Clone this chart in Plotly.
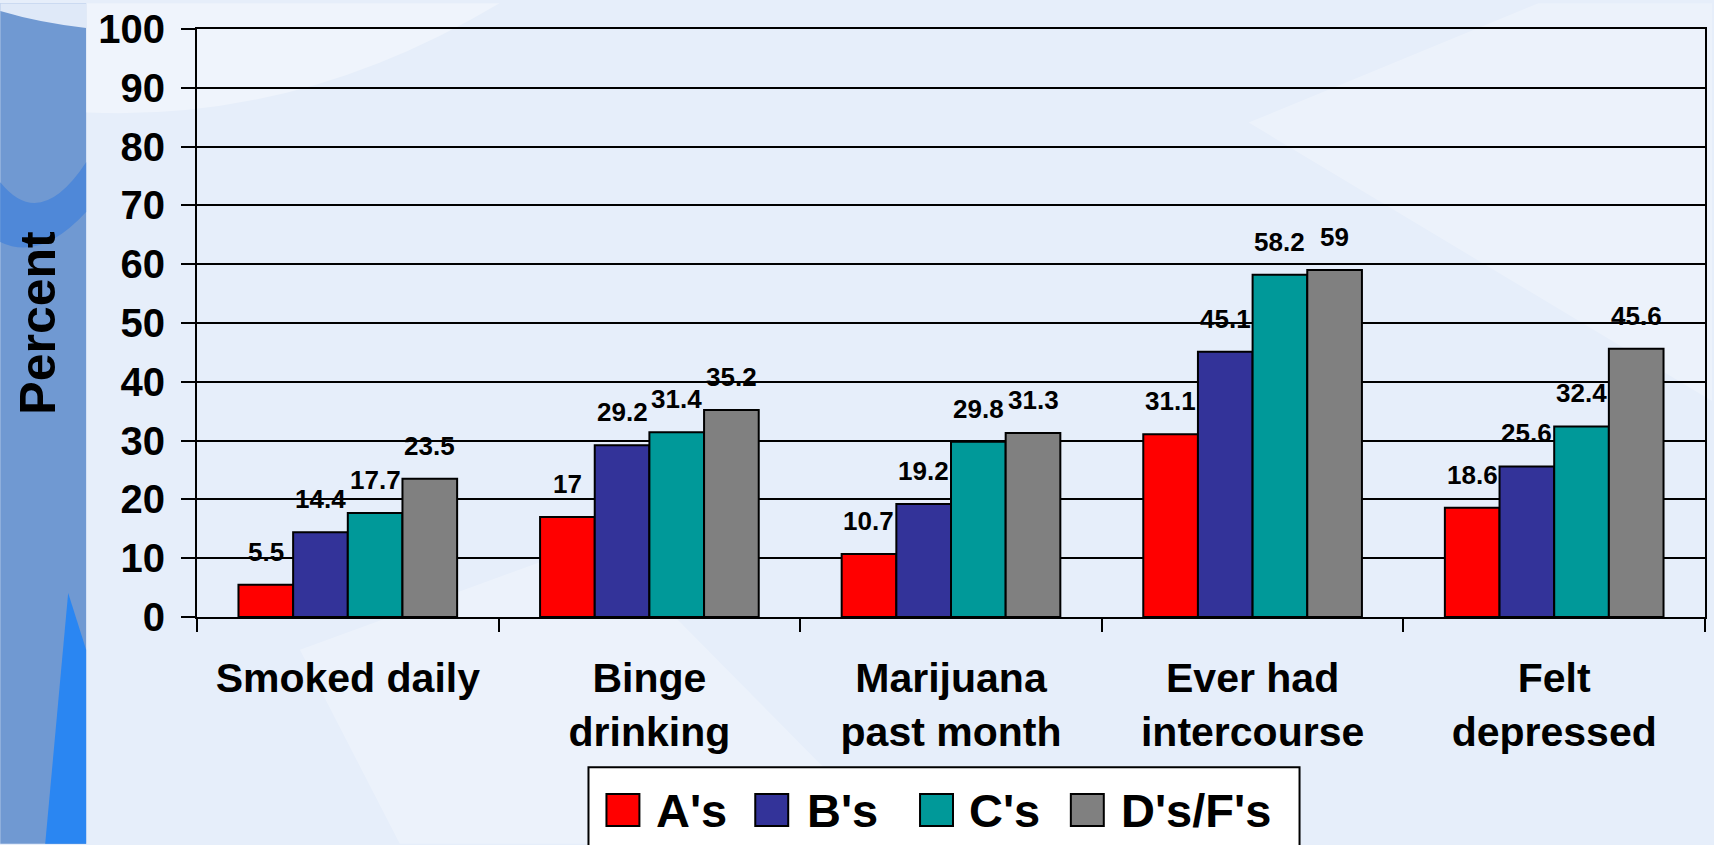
import plotly.graph_objects as go

# ---- data ----
categories = ["Smoked daily", "Binge<br>drinking", "Marijuana<br>past month",
              "Ever had<br>intercourse", "Felt<br>depressed"]
series_names = ["A's", "B's", "C's", "D's/F's"]
a_vals = [5.5, 17, 10.7, 31.1, 18.6]
b_vals = [14.4, 29.2, 19.2, 45.1, 25.6]
c_vals = [17.7, 31.4, 29.8, 58.2, 32.4]
df_vals = [23.5, 35.2, 31.3, 59, 45.6]
y_ticks = [0, 10, 20, 30, 40, 50, 60, 70, 80, 90, 100]

all_series = [a_vals, b_vals, c_vals, df_vals]
colors = ["#FF0000", "#333399", "#009999", "#808080"]

# ---- layout geometry (pixels) ----
W, H = 1714, 845
ML, MR, MT, MB = 197, 7, 26, 228
PW = W - ML - MR
PH = H - MT - MB
BARGAP = 0.275
FONT = "Liberation Sans, Arial, sans-serif"


def px2x(px):
    return (px - ML) / PW


def py2y(py):
    return (H - MB - py) / PH


fig = go.Figure()
for name, vals, col in zip(series_names, all_series, colors):
    fig.add_trace(go.Bar(
        x=categories, y=vals, name=name, showlegend=False,
        marker=dict(color=col, line=dict(color="black", width=2)),
    ))

# data labels above bars
bar_w = PW / len(categories) * (1 - BARGAP) / len(all_series)
annotations = []
for i, vals in enumerate(all_series):
    for cat, v in zip(categories, vals):
        annotations.append(dict(
            x=cat, y=v, xref="x", yref="y", text=f"{v:g}", showarrow=False,
            xshift=(i - (len(all_series) - 1) / 2) * bar_w, yshift=16,
            yanchor="bottom", xanchor="center",
            font=dict(family=FONT, size=26, color="black", weight="bold"),
        ))

# background decoration
shapes = [
    dict(type="rect", xref="paper", yref="paper", layer="below",
         x0=px2x(0), x1=px2x(86), y0=py2y(H), y1=py2y(0),
         fillcolor="#7099d2", line=dict(width=0)),
    dict(type="path", xref="paper", yref="paper", layer="below",
         path=f"M {px2x(0)},{py2y(0)} L {px2x(86)},{py2y(0)} L {px2x(86)},{py2y(25)} "
              f"Q {px2x(40)},{py2y(20)} {px2x(0)},{py2y(8)} Z",
         fillcolor="#dfe9f8", line=dict(width=0)),
    dict(type="path", xref="paper", yref="paper", layer="below",
         path=f"M {px2x(68)},{py2y(593)} L {px2x(86)},{py2y(650)} L {px2x(86)},{py2y(H)} "
              f"L {px2x(45)},{py2y(H)} Z",
         fillcolor="#2a86f2", line=dict(width=0)),
    dict(type="path", xref="paper", yref="paper", layer="below",
         path=f"M {px2x(0)},{py2y(180)} Q {px2x(40)},{py2y(230)} {px2x(86)},{py2y(160)} "
              f"L {px2x(86)},{py2y(210)} Q {px2x(40)},{py2y(260)} {px2x(0)},{py2y(240)} Z",
         fillcolor="#4f88d8", line=dict(width=0)),
    dict(type="path", xref="paper", yref="paper", layer="below",
         path=f"M {px2x(86)},{py2y(0)} L {px2x(500)},{py2y(0)} Q {px2x(300)},{py2y(120)} {px2x(86)},{py2y(110)} Z",
         fillcolor="rgba(255,255,255,0.35)", line=dict(width=0)),
    dict(type="path", xref="paper", yref="paper", layer="below",
         path=f"M {px2x(1250)},{py2y(120)} L {px2x(1540)},{py2y(0)} L {px2x(1714)},{py2y(0)} "
              f"L {px2x(1714)},{py2y(400)} Z",
         fillcolor="rgba(255,255,255,0.25)", line=dict(width=0)),
    dict(type="path", xref="paper", yref="paper", layer="below",
         path=f"M {px2x(300)},{py2y(650)} L {px2x(600)},{py2y(540)} L {px2x(900)},{py2y(845)} "
              f"L {px2x(400)},{py2y(845)} Z",
         fillcolor="rgba(255,255,255,0.25)", line=dict(width=0)),
]

# legend (drawn box with large swatches)
shapes.append(dict(type="rect", xref="paper", yref="paper",
                   x0=px2x(589), x1=px2x(1301), y0=py2y(862), y1=py2y(768),
                   fillcolor="white", line=dict(color="black", width=2)))
swatch_left = [607, 756, 921, 1072]
text_left = [655, 806, 968, 1120]
for name, col, sx, tx in zip(series_names, colors, swatch_left, text_left):
    shapes.append(dict(type="rect", xref="paper", yref="paper",
                       x0=px2x(sx), x1=px2x(sx + 33), y0=py2y(827), y1=py2y(795),
                       fillcolor=col, line=dict(color="black", width=2)))
    annotations.append(dict(x=px2x(tx), y=py2y(811), xref="paper", yref="paper",
                            text=name, showarrow=False, xanchor="left", yanchor="middle",
                            font=dict(family=FONT, size=47, color="black", weight="bold")))

fig.update_layout(
    width=W, height=H, autosize=False,
    margin=dict(l=ML, r=MR, t=MT, b=MB, pad=0),
    paper_bgcolor="#e6eefa", plot_bgcolor="rgba(0,0,0,0)",
    barmode="group", bargap=BARGAP, bargroupgap=0,
    showlegend=False,
    shapes=shapes, annotations=annotations,
    font=dict(family=FONT, color="black"),
)
fig.update_xaxes(
    type="category", tickson="boundaries", ticks="outside", ticklen=13, tickwidth=2,
    tickcolor="black", showline=True, linecolor="black", linewidth=2, mirror=True,
    showgrid=False, ticklabelstandoff=24,
    tickfont=dict(family=FONT, size=41, color="black", weight="bold"),
)
fig.update_yaxes(
    range=[0, 100], tickvals=y_ticks, ticks="outside", ticklen=14, tickwidth=2,
    tickcolor="black", showline=True, linecolor="black", linewidth=2, mirror=True,
    showgrid=True, gridcolor="black", gridwidth=2, zeroline=False,
    ticklabelstandoff=8,
    tickfont=dict(family=FONT, size=40, color="black", weight="bold"),
    title=dict(text="Percent", standoff=27,
               font=dict(family=FONT, size=50, color="black", weight="bold")),
)

fig.write_html("out.html", config={"displayModeBar": False},
               post_script="document.body.style.margin='0';"
                           "document.body.style.overflow='hidden';")
